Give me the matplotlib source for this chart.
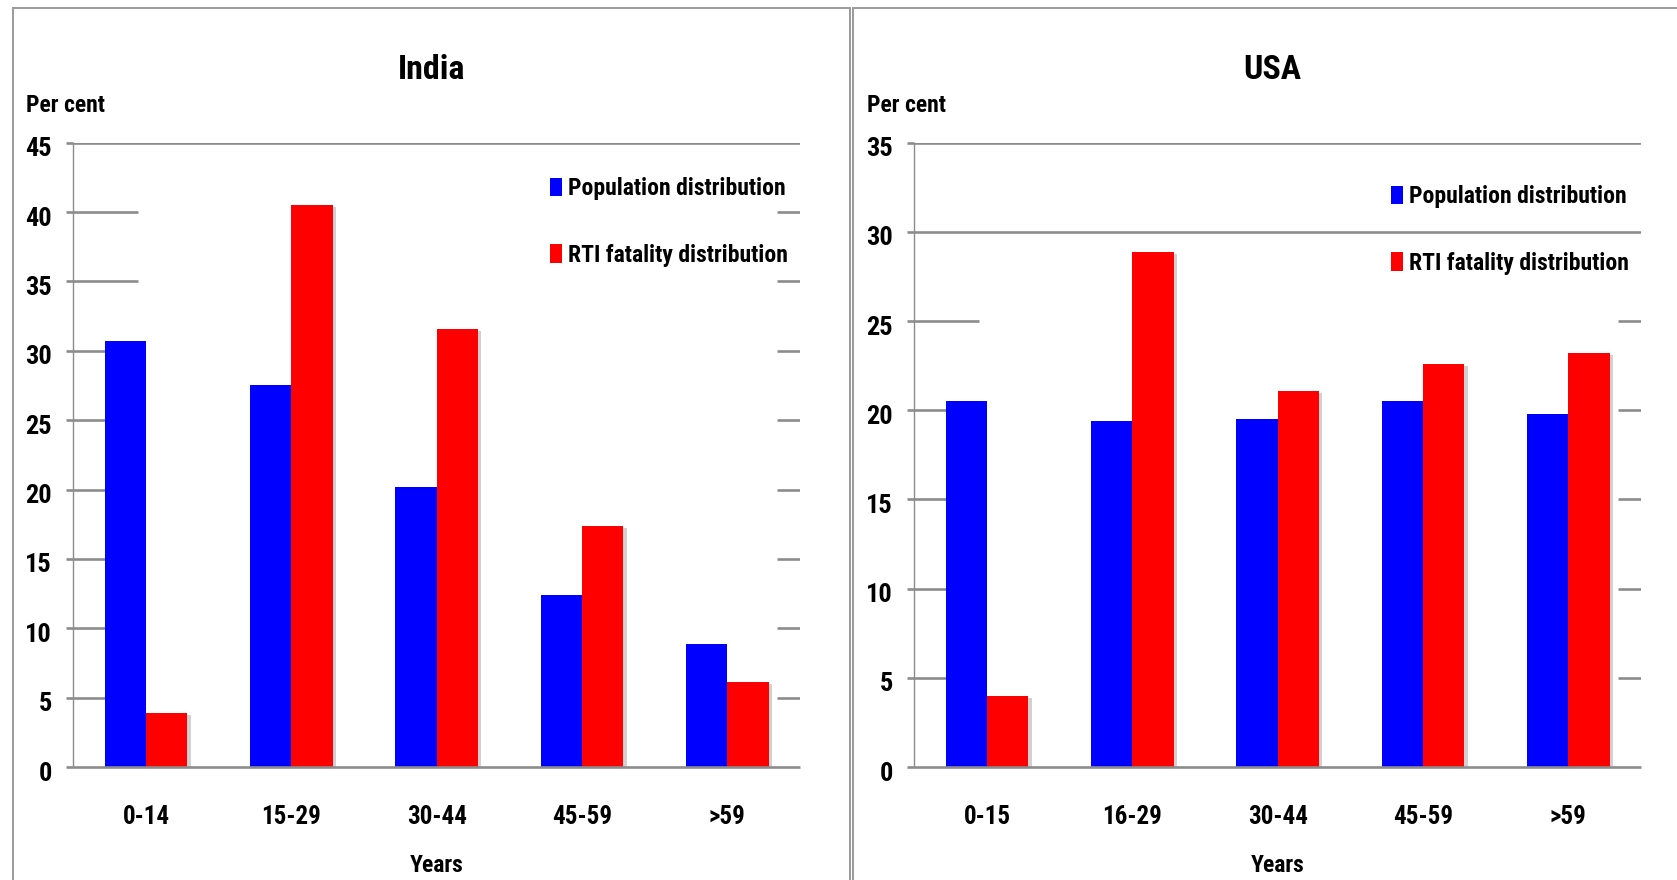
import numpy as np
import matplotlib
matplotlib.use("Agg")
import matplotlib.pyplot as plt
import matplotlib.patheffects as pe
import matplotlib.transforms as mtransforms
from matplotlib import font_manager
from matplotlib.patches import Patch, Rectangle

# ---- data ----
india_groups = ["0-14", "15-29", "30-44", "45-59", ">59"]
india_population = [30.7, 27.5, 20.2, 12.4, 8.9]
india_rti = [3.9, 40.5, 31.6, 17.4, 6.1]

usa_groups = ["0-15", "16-29", "30-44", "45-59", ">59"]
usa_population = [20.5, 19.4, 19.5, 20.5, 19.8]
usa_rti = [4.0, 28.9, 21.1, 22.6, 23.2]

series_labels = ["Population distribution", "RTI fatality distribution"]

# ---- font: prefer a narrow face, otherwise shrink a regular one ----
installed = {f.name for f in font_manager.fontManager.ttflist}
narrow = [n for n in ["Roboto Condensed", "Liberation Sans Narrow",
                      "Open Sans Condensed", "DejaVu Sans Condensed",
                      "Noto Sans Condensed"] if n in installed]
if narrow:
    FONT = [narrow[0], "DejaVu Sans"]
    SCALE = 1.0
else:
    FONT = ["Liberation Sans", "DejaVu Sans"]
    SCALE = 0.84

plt.rcParams["font.family"] = FONT
plt.rcParams["font.weight"] = "bold"

W, H = 1677, 880
BLUE = "#0000ff"
RED = "#ff0000"
GRID = "#8c8c8c"
FRAME = "#9a9a9a"

fig = plt.figure(figsize=(W / 100, H / 100), dpi=100)
fig.patch.set_facecolor("white")

# panel frames (open at the bottom / right edge of the canvas)
top_y = 1 - 8.5 / H
fig.patches.append(Rectangle((13 / W, -0.1), (850 - 13) / W, top_y + 0.1,
                             transform=fig.transFigure, fill=False,
                             edgecolor=FRAME, lw=1.4))
fig.patches.append(Rectangle((853 / W, -0.1), 1.0, top_y + 0.1,
                             transform=fig.transFigure, fill=False,
                             edgecolor=FRAME, lw=1.4))

ax_w = 726.7 / W
ax_h = 624.3 / H
ax_b = (H - 767) / H

panels = [
    dict(title="India", groups=india_groups, pop=india_population,
         rti=india_rti, ymax=45, full_grid=[45], left=73.3,
         legend_y=0.873),
    dict(title="USA", groups=usa_groups, pop=usa_population,
         rti=usa_rti, ymax=35, full_grid=[35, 30], left=914.3,
         legend_y=0.860),
]

bar_w = 0.284
fs_tick = 19 * SCALE
fs_cat = 18 * SCALE
fs_lab = 17 * SCALE
fs_title = 24.5 * SCALE
fs_leg = 17 * SCALE
fs_leg_px = fs_leg * 100 / 72

for p in panels:
    ax = fig.add_axes([p["left"] / W, ax_b, ax_w, ax_h])
    x = np.arange(len(p["groups"]))
    ax.set_xlim(-0.5, len(x) - 0.5)
    ax.set_ylim(0, p["ymax"])

    # horizontal grid: full lines at the top, short stubs at both sides below
    yt = np.arange(5, p["ymax"] + 1, 5)
    for v in yt:
        if v in p["full_grid"]:
            ax.hlines(v, -0.5, len(x) - 0.5, color=GRID, lw=1.9, zorder=1)
        else:
            ax.hlines(v, -0.5, -0.058, color=GRID, lw=1.9, zorder=1)
            ax.hlines(v, len(x) - 0.656, len(x) - 0.5, color=GRID, lw=1.9,
                      zorder=1)

    ax.bar(x - bar_w / 2, p["pop"], bar_w, color=BLUE, zorder=2,
           label=series_labels[0])
    reds = ax.bar(x + bar_w / 2, p["rti"], bar_w, color=RED, zorder=2,
                  label=series_labels[1])
    for r in reds:
        r.set_path_effects([pe.SimplePatchShadow(offset=(2.5, -1.5),
                                                 shadow_rgbFace="k",
                                                 alpha=0.18),
                            pe.Normal()])

    # axis line along zero
    ax.hlines(0, -0.5, len(x) - 0.5, color=GRID, lw=1.9, zorder=3,
              clip_on=False)

    for s in ["top", "right", "bottom"]:
        ax.spines[s].set_visible(False)
    ax.spines["left"].set_color(GRID)
    ax.spines["left"].set_linewidth(1.0)

    ax.set_yticks(np.arange(0, p["ymax"] + 1, 5))
    ax.tick_params(axis="y", direction="out", length=4.8, width=1.9,
                   color=GRID, pad=10.5, labelsize=fs_tick)
    shift = mtransforms.ScaledTranslation(0, -0.04, fig.dpi_scale_trans)
    for lab in ax.get_yticklabels():
        lab.set_transform(lab.get_transform() + shift)
        lab.set_fontweight("bold")

    ax.set_xticks(x)
    ax.set_xticklabels(p["groups"], fontsize=fs_cat, fontweight="bold")
    ax.tick_params(axis="x", length=0, pad=27)

    ax.text(0.5, -0.158, "Years", transform=ax.transAxes, ha="center",
            va="center", fontsize=fs_lab, fontweight="bold")
    ax.text(-0.065, 1.049, "Per cent", transform=ax.transAxes, ha="left",
            va="baseline", fontsize=fs_lab, fontweight="bold")
    ax.text(0.493, 1.116, p["title"], transform=ax.transAxes, ha="center",
            va="center", fontsize=fs_title, fontweight="bold")

    handles = [Patch(facecolor=BLUE, edgecolor="none"),
               Patch(facecolor=RED, edgecolor="none")]
    ax.legend(handles, series_labels, loc="center left",
              bbox_to_anchor=(0.656, p["legend_y"]), frameon=False,
              prop=dict(family=FONT, weight="bold", size=fs_leg),
              handlelength=12 / fs_leg_px, handleheight=20 / fs_leg_px,
              handletextpad=6 / fs_leg_px, labelspacing=1.85 / SCALE,
              borderpad=0, borderaxespad=0)
    ax.set_facecolor("none")

fig.savefig("out.png", dpi=100, facecolor="white")
